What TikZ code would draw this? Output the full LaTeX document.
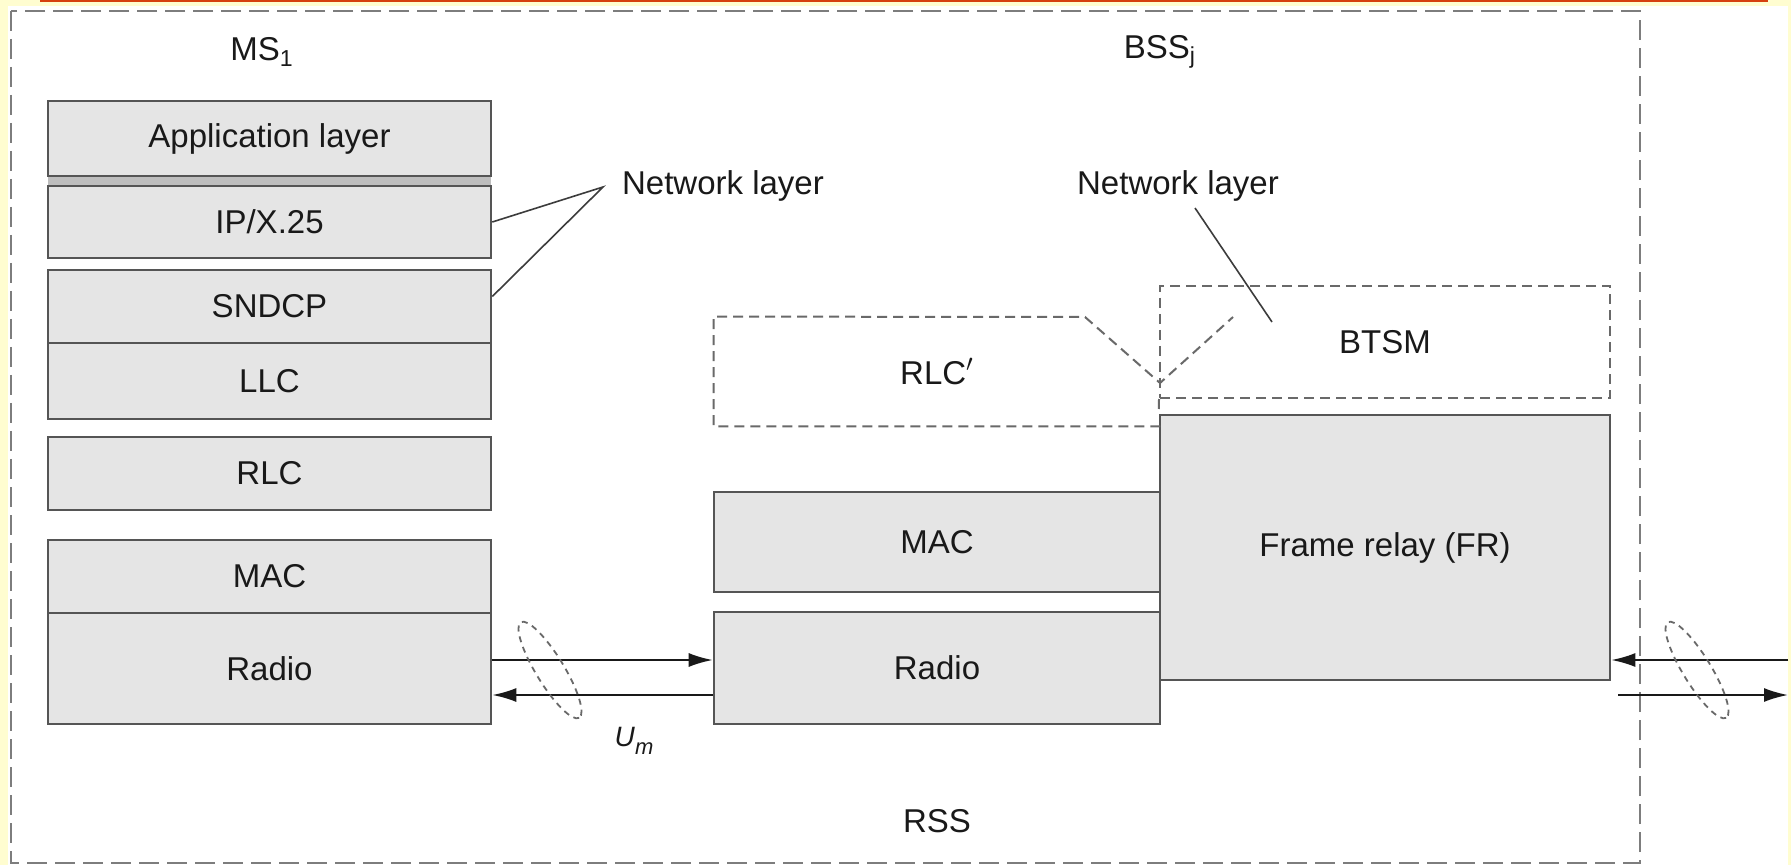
\documentclass[tikz,border=0pt]{standalone}
\usepackage{fontspec}
\setmainfont{Liberation Sans}
\usetikzlibrary{arrows.meta,calc}
\definecolor{bgyellow}{RGB}{255,253,208}
\definecolor{topred}{RGB}{214,64,16}
\definecolor{boxfill}{RGB}{229,229,229}
\definecolor{boxline}{RGB}{85,85,85}
\definecolor{bandgray}{RGB}{190,190,190}
\definecolor{dashgray}{RGB}{105,105,105}
\definecolor{outergray}{RGB}{125,125,125}
\definecolor{txt}{RGB}{25,25,25}
\begin{document}
\begin{tikzpicture}[x=0.5pt,y=-0.5pt,
  mainfont/.style={font=\fontsize{16.5pt}{20pt}\selectfont},
  layer/.style={draw=boxline, fill=boxfill, line width=1.3pt, inner sep=0pt, text=txt, mainfont},
  dbox/.style={draw=dashgray, line width=1pt, dash pattern=on 5pt off 3pt, inner sep=0pt, text=txt, mainfont},
  dline/.style={draw=dashgray, line width=1pt, dash pattern=on 5pt off 3pt},
  lbl/.style={text=txt, inner sep=0pt, mainfont},
  conn/.style={draw=txt!85, line width=0.8pt},
  sig/.style={draw=txt, line width=1pt, -{Latex[length=12pt,width=7pt]}},
  loopy/.style={draw=dashgray, line width=0.9pt, dash pattern=on 3pt off 2.5pt},
  outer/.style={draw=outergray, line width=1.2pt, dash pattern=on 10pt off 4pt}
]
% background and frame
\useasboundingbox (0,0) rectangle (1791,865);
\fill[bgyellow] (0,0) rectangle (1791,865);
\fill[white] (8,6) rectangle (1788,865);
\draw[topred, line width=1.2pt] (40,1) -- (1768,1);
\draw[outer] (11,11) rectangle (1640,863);

% labels at top
\node[lbl] (ms) at (262,52) {MS\textsubscript{1}};
\node[lbl] (bss) at (1160,52) {BSS\textsubscript{j}};
\node[lbl] (rss) at (937,821) {RSS};

% MS protocol stack
\fill[bandgray] (48,176) rectangle (491,186);
\node[layer, minimum width=221.5pt, minimum height=37.5pt] (app) at (269.5,138.5) {Application layer};
\node[layer, minimum width=221.5pt, minimum height=36pt] (ip) at (269.5,222) {IP/X.25};
\node[layer, minimum width=221.5pt, minimum height=36.5pt] (sndcp) at (269.5,306.5) {SNDCP};
\node[layer, minimum width=221.5pt, minimum height=38pt] (llc) at (269.5,381) {LLC};
\node[layer, minimum width=221.5pt, minimum height=36.5pt] (rlc) at (269.5,473.5) {RLC};
\node[layer, minimum width=221.5pt, minimum height=36.5pt] (mac) at (269.5,576.5) {MAC};
\node[layer, minimum width=221.5pt, minimum height=55.5pt] (radio) at (269.5,668.5) {Radio};

% BSS stack
\node[layer, minimum width=223pt, minimum height=50pt] (bmac) at (937,542) {MAC};
\node[layer, minimum width=223pt, minimum height=56pt] (bradio) at (937,668) {Radio};
\node[layer, minimum width=225pt, minimum height=132.5pt] (fr) at (1385,547.5) {Frame relay (FR)};
\node[dbox, minimum width=225pt, minimum height=56pt] (btsm) at (1385,342) {BTSM};
\node[lbl, minimum width=223pt, minimum height=54.5pt] (rlcp) at (937,371.5) {RLC$'$};
\draw[dline] (rlcp.south east) -- (rlcp.south west) -- (rlcp.north west) -- (1085,317) -- (1160,383) -- (1233,317);
\draw[dline] (btsm.south west) -- (fr.north west);

% network layer annotations
\node[lbl] (nl1) at (723,186) {Network layer};
\node[lbl] (nl2) at (1178,186) {Network layer};
\coordinate (apex) at (603,187);
\draw[conn] (ip.east) -- (apex) -- ($(sndcp.east)+(0,-10)$);
\coordinate (nl2s) at (1195,208);
\coordinate (nl2e) at (1272,322);
\draw[conn] (nl2s) -- (nl2e);

% Um interface
\draw[sig] (radio.east |- 0,660) -- (bradio.west |- 0,660);
\draw[sig] (bradio.west |- 0,695) -- (radio.east |- 0,695);
\draw[loopy, rotate around={-58.6:(550,670)}] (550,670) ellipse [x radius=56, y radius=14];
\node[inner sep=0pt, text=txt] (um) at (634,741) {\fontsize{14pt}{16pt}\selectfont\textit{U}\raisebox{-0.3em}{\fontsize{11pt}{13pt}\selectfont\textit{m}}};

% right interface
\coordinate (rin) at (1788,660);
\coordinate (rs) at (1618,695);
\coordinate (rout) at (1788,695);
\draw[sig] (rin) -- (fr.east |- 0,660);
\draw[sig] (rs) -- (rout);
\draw[loopy, rotate around={-58.6:(1697,670)}] (1697,670) ellipse [x radius=56, y radius=14];
\end{tikzpicture}
\end{document}
